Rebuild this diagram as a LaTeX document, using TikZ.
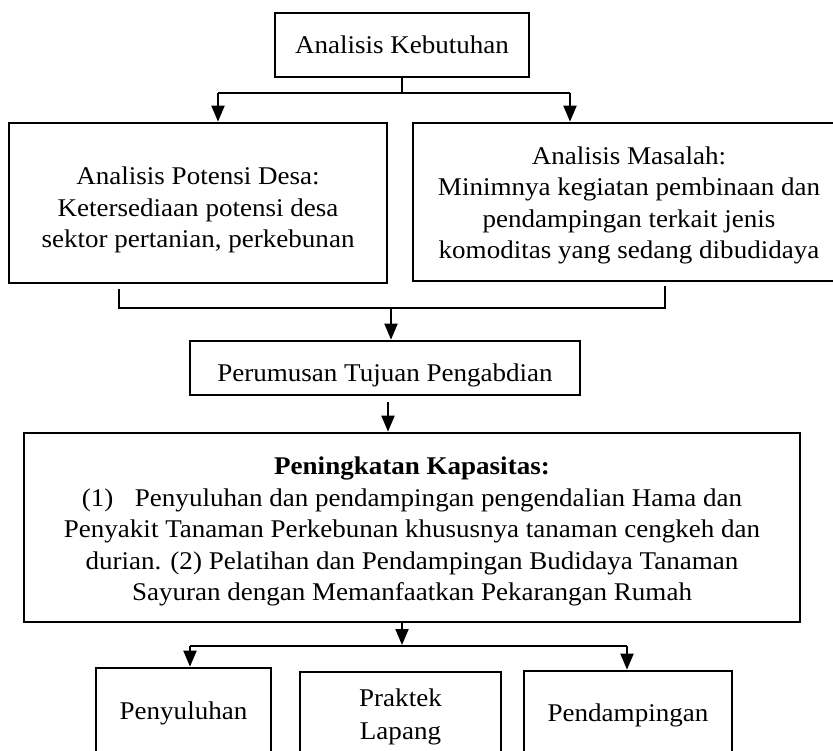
\documentclass[tikz,border=0pt]{standalone}
\usepackage{fontspec}
\setmainfont{Liberation Serif}[FakeStretch=1.06]
\usetikzlibrary{arrows.meta}
\tikzset{
  box/.style={draw, line width=2.7pt, inner sep=0pt, align=center, rectangle},
  conn/.style={line width=2pt},
  arr/.style={line width=2pt, -{Triangle[length=16pt,width=13pt]}},
}
\newcommand{\dropstrut}[1]{\rule{0pt}{#1}}
\begin{document}
\begin{tikzpicture}[x=1pt,y=-1pt,font=\fontsize{25.5}{31.5}\selectfont]
\clip (0,0) rectangle (833,751);
\fill[white] (0,0) rectangle (833,751);
\node[box, minimum width=254pt, minimum height=64pt] (top) at (402,45) {Analisis Kebutuhan};
\node[box, minimum width=378pt, minimum height=160pt] (left) at (198,203)
  {\dropstrut{32pt}Analisis Potensi Desa:\\Ketersediaan potensi desa\\sektor pertanian, perkebunan};
\node[box, minimum width=432pt, minimum height=158pt] (right) at (629,202)
  {\dropstrut{25pt}Analisis Masalah:\\Minimnya kegiatan pembinaan dan\\pendampingan terkait jenis\\komoditas yang sedang dibudidaya};
\node[box, minimum width=390pt, minimum height=54pt] (per) at (385,368) {\dropstrut{33pt}Perumusan Tujuan Pengabdian};
\node[box, minimum width=776pt, minimum height=189pt] (big) at (412,527.5)
  {\dropstrut{26pt}\textbf{Peningkatan Kapasitas:}\\
   (1)\hspace{0.85em}Penyuluhan dan pendampingan pengendalian Hama dan\\
   Penyakit Tanaman Perkebunan khususnya tanaman cengkeh dan\\
   durian. (2) Pelatihan dan Pendampingan Budidaya Tanaman\\
   Sayuran dengan Memanfaatkan Pekarangan Rumah};
\node[box, minimum width=175pt, minimum height=90pt] (b1) at (183.5,713) {Penyuluhan};
\node[box, minimum width=201pt, minimum height=90pt] (b2) at (400.5,717) {Praktek\\[1.5pt]Lapang};
\node[box, minimum width=208pt, minimum height=88pt] (b3) at (628,715) {Pendampingan};
% connectors top
\coordinate (j1) at (402,93);
\coordinate (jl) at (218,93);
\coordinate (jr) at (570,93);
\draw[conn] (top.south) -- (j1);
\draw[conn] (jl) -- (jr);
\draw[arr] (jl) -- (jl |- left.north);
\draw[arr] (jr) -- (jr |- right.north);
% connectors middle
\coordinate (m1) at (119,308);
\coordinate (m2) at (665,308);
\coordinate (m3) at (391,308);
\draw[conn] ([yshift=-5pt] m1 |- left.south) -- (m1) -- (m2) -- ([yshift=-4pt] m2 |- right.south);
\draw[arr] (m3) -- (m3 |- per.north);
\coordinate (p1) at (388,402);
\draw[arr] (p1) -- (p1 |- big.north);
% connectors bottom
\coordinate (q1) at (402,645);
\coordinate (ql) at (190,646);
\coordinate (qr) at (627,646);
\draw[arr] (q1 |- big.south) -- (q1);
\draw[conn] (ql) -- (qr);
\draw[arr] (ql) -- (ql |- b1.north);
\draw[arr] (qr) -- (qr |- b3.north);
\end{tikzpicture}
\end{document}
